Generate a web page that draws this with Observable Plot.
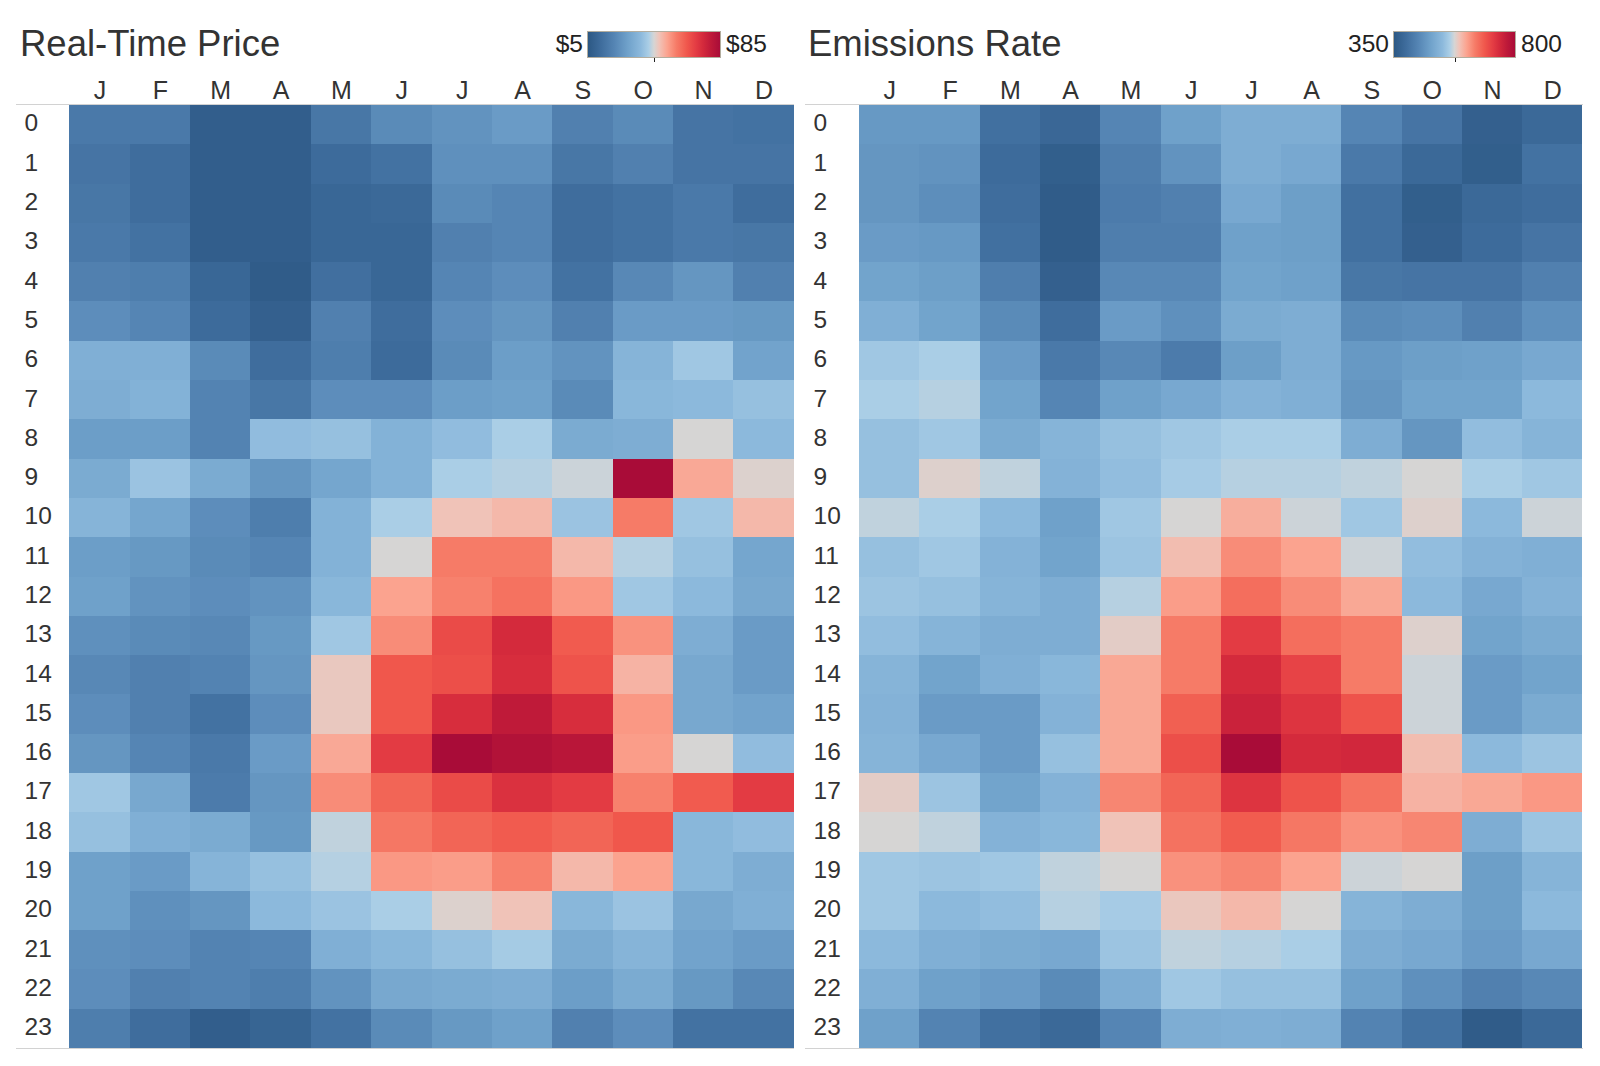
<!DOCTYPE html>
<html>
<head>
<meta charset="utf-8">
<script src="https://cdn.jsdelivr.net/npm/d3@7"></script>
<script src="https://cdn.jsdelivr.net/npm/@observablehq/plot@0.6"></script>
<style>
  html, body { margin: 0; padding: 0; background: #fff; }
  body { font-family: "Liberation Sans", Arial, Helvetica, sans-serif; color: #333; }
  #root { position: relative; width: 1600px; height: 1066px; overflow: hidden; background: #fff; }
  .title { position: absolute; font-size: 36.5px; line-height: 36px; color: #333; white-space: nowrap; }
  .legtext { position: absolute; font-size: 24.5px; line-height: 24px; color: #222; white-space: nowrap; }
  .bar { position: absolute; box-sizing: border-box; border: 1px solid #b3ad9e; }
  .tick { position: absolute; width: 1px; height: 4px; background: #222; }
  .rule { position: absolute; height: 1px; background: #d2d2d2; }
</style>
</head>
<body>
<div id="root"></div>
<script>
// ---------- data ----------
const months = ["Jan","Feb","Mar","Apr","May","Jun","Jul","Aug","Sep","Oct","Nov","Dec"];
const monthLabels = ["J","F","M","A","M","J","J","A","S","O","N","D"];
const hours = [0,1,2,3,4,5,6,7,8,9,10,11,12,13,14,15,16,17,18,19,20,21,22,23];

// Real-time price ($/MWh), rows = hour 0..23, columns = Jan..Dec
const price = [
  [17,17,7.4,7.4,16.2,22.6,25,27.4,19.4,22.6,15.4,14.6],
  [15.4,13,7.4,7.4,12.2,14.6,24.2,24.2,16.2,19.4,15.4,15.4],
  [16.2,13,7.4,7.4,10.6,11.4,22.6,21,13,14.6,17,13],
  [17,14.6,7.4,7.4,10.6,10.6,19.4,21,13,14.6,17,16.2],
  [19.4,18.6,10.6,6.6,13.8,10.6,21,23.4,14.6,21.8,25.8,19.4],
  [23.4,21,12.2,8.2,19.4,13,23.4,25.8,19.4,27.4,27.4,26.6],
  [33.8,33.8,22.6,13,18.6,12.2,22.6,28.2,25,35.4,40.2,29.8],
  [33,34.6,20.2,16.2,23.4,23.4,28.2,29,22.6,36.2,37,38.6],
  [28.2,28.2,20.2,37.8,38.6,34.6,37.8,41.8,32.2,33,45,37],
  [32.2,39.4,32.2,25.8,30.6,34.6,41.8,42.6,44.2,85,52.2,45.8],
  [35.4,30.6,23.4,18.6,34.6,41.8,48.2,49.8,39.4,58.6,40.2,49.8],
  [28.2,26.6,22.6,21,34.6,45,58.6,58.6,49.8,42.6,38.6,30.6],
  [29,25,23.4,25,36.2,53,57.8,60.2,54.6,40.2,37,31.4],
  [24.2,22.6,21.8,26.6,40.2,56.2,67.4,74.6,64.2,55.4,33,27.4],
  [21.8,19.4,20.2,25.8,47.4,65,66.6,73.8,65.8,50.6,31.4,27.4],
  [23.4,19.4,14.6,23.4,47.4,65,73.8,79.4,73.8,54.6,31.4,29.8],
  [25.8,21,17,27.4,52.2,70.6,85,82.6,81,53.8,45,37.8],
  [40.2,31.4,17.8,25.8,56.2,62.6,67.4,73,70.6,57.8,64.2,70.6],
  [38.6,33.8,32.2,26.6,43.4,59.4,62.6,64.2,62.6,65,36.2,37.8],
  [29,27.4,35.4,38.6,42.6,54.6,53.8,57.8,49.8,53,36.2,33],
  [29,24.2,25.8,37,39.4,41.8,45.8,48.2,36.2,39.4,31.4,33.8],
  [24.2,23.4,20.2,21,33.8,36.2,38.6,41,32.2,35.4,29.8,27.4],
  [23.4,19.4,20.2,18.6,25,31.4,32.2,33,28.2,32.2,26.6,21.8],
  [18.6,13,7.4,9.8,14.6,22.6,26.6,29,19.4,23.4,14.6,14.6]
];

// Emissions rate, rows = hour 0..23, columns = Jan..Dec
const emissions = [
  [472,472,400,382,440,485,508,508,440,409,368,386],
  [467,463,391,364,427,463,508,499,418,386,364,404],
  [467,454,395,359,422,431,499,481,400,364,386,395],
  [476,472,400,359,427,427,485,481,400,368,391,409],
  [490,481,427,368,445,445,490,485,413,409,409,431],
  [512,490,449,395,476,458,503,508,449,454,431,458],
  [548,557,476,418,445,422,481,508,472,481,485,499],
  [557,562,490,440,485,499,517,512,467,490,490,530],
  [539,548,503,521,539,548,557,557,508,467,535,521],
  [539,580,566,517,535,553,562,562,566,575,557,548],
  [566,557,530,485,548,575,611,571,548,580,530,571],
  [539,548,517,490,544,598,638,620,571,535,517,512],
  [544,539,521,508,562,625,665,638,616,530,499,517],
  [535,521,508,508,584,652,719,665,652,580,490,503],
  [521,490,512,526,616,652,742,710,652,571,476,490],
  [517,476,476,517,616,679,755,728,692,571,476,503],
  [521,499,476,539,616,697,800,742,746,598,530,544],
  [584,544,490,517,643,674,728,692,661,607,616,629],
  [575,566,517,526,593,661,683,656,634,643,508,544],
  [548,544,548,566,575,634,643,620,571,575,481,521],
  [548,530,535,562,553,589,602,575,521,508,481,530],
  [530,512,503,499,544,566,562,557,508,499,476,499],
  [512,485,476,449,508,548,539,539,485,458,431,445],
  [485,436,400,386,440,508,512,508,436,404,359,386]
];

const priceRange = [5, 85];
const emissionsRange = [350, 800];
const priceLegendLabels = ["$5", "$85"];
const emissionsLegendLabels = ["350", "800"];

// diverging red-blue palette (position along the ramp, colour)
const rampStops = [0, 0.1, 0.2, 0.3, 0.4, 0.46, 0.5, 0.54, 0.6, 0.67, 0.75, 0.82, 0.87, 0.93, 1];
const rampColors = ["#2c5884","#3f6d9d","#5585b4","#6fa1ca","#8cb9dc","#aacee6","#d6d5d4",
                    "#f0c3b8","#fba38f","#f67b67","#f0574c","#e33b43","#d42a3c","#bf1a39","#a90c38"];

// ---------- drawing ----------
const root = document.getElementById("root");
const FONT = '"Liberation Sans", Arial, Helvetica, sans-serif';

function el(cls, css, text) {
  const d = document.createElement("div");
  d.className = cls;
  Object.assign(d.style, css);
  if (text != null) d.textContent = text;
  root.appendChild(d);
  return d;
}

function heatmap(values, range, g) {
  const data = [];
  hours.forEach((h, i) => months.forEach((m, j) => data.push({hour: h, month: m, value: values[i][j]})));
  const [lo, hi] = range;
  const chart = Plot.plot({
    width: g.width,
    height: 990,
    marginTop: 45,
    marginBottom: 2,
    marginLeft: g.ml,
    marginRight: g.mr,
    style: {fontFamily: FONT, fontSize: "24px", color: "#333", background: "transparent", overflow: "visible"},
    x: {domain: months, padding: 0, round: false, label: null},
    y: {domain: hours, padding: 0, round: false, label: null},
    color: {type: "linear", domain: rampStops.map(t => lo + t * (hi - lo)), range: rampColors, interpolate: "rgb", clamp: true},
    marks: [
      Plot.cell(data, {x: "month", y: "hour", fill: "value", inset: 0, shapeRendering: "crispEdges"}),
      Plot.axisX({anchor: "top", tickSize: 0, tickPadding: 7, label: null, fontSize: 25,
                  tickFormat: d => monthLabels[months.indexOf(d)]}),
      Plot.axisY({anchor: "left", tickSize: 0, tickPadding: 0, textAnchor: "start", dx: g.labelDx, dy: -1.5,
                  label: null, fontSize: 24.5})
    ]
  });
  chart.style.position = "absolute";
  chart.style.left = g.left + "px";
  chart.style.top = "60px";
  root.appendChild(chart);
}

function legend(g, labels) {
  const grad = "linear-gradient(to right, " +
    rampColors.map((c, i) => `${c} ${(rampStops[i] * 100).toFixed(1)}%`).join(", ") + ")";
  el("bar", {left: g.x0 + "px", top: "31px", width: (g.x1 - g.x0) + "px", height: "27px", background: grad});
  el("tick", {left: Math.round((g.x0 + g.x1) / 2) + "px", top: "58px"});
  el("legtext", {right: (1600 - g.x0 + 4) + "px", top: "32px", textAlign: "right"}, labels[0]);
  el("legtext", {left: (g.x1 + 5) + "px", top: "32px"}, labels[1]);
}

// titles
el("title", {left: "20px", top: "26px"}, "Real-Time Price");
el("title", {left: "808px", top: "26px"}, "Emissions Rate");

// legends
legend({x0: 587, x1: 721}, priceLegendLabels);
legend({x0: 1393, x1: 1516}, emissionsLegendLabels);

// heatmaps
heatmap(price, priceRange, {left: 0, width: 800, ml: 69.4, mr: 6.4, labelDx: -45.4});
heatmap(emissions, emissionsRange, {left: 790, width: 800, ml: 69.2, mr: 7.6, labelDx: -46.2});

// separator rules above / below the grids
el("rule", {left: "16px", width: "778px", top: "104px"});
el("rule", {left: "16px", width: "778px", top: "1048px"});
el("rule", {left: "805px", width: "778px", top: "104px"});
el("rule", {left: "805px", width: "778px", top: "1048px"});
</script>
</body>
</html>
